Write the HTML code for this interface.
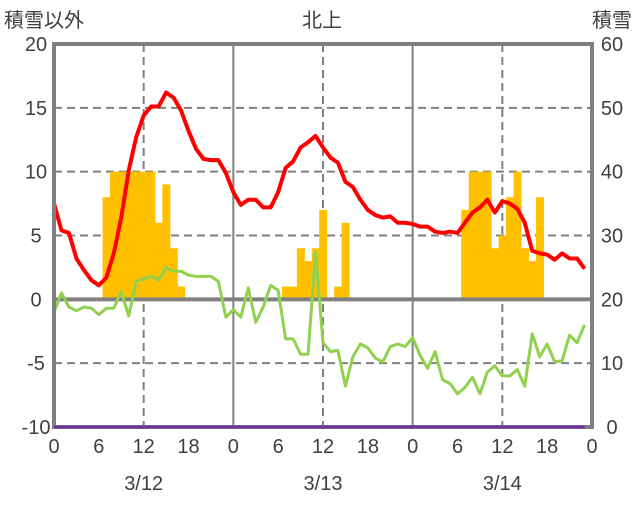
<!DOCTYPE html>
<html><head><meta charset="utf-8"><style>
body{margin:0;background:#fff;}
svg text{font-family:"Liberation Sans","Noto Sans CJK JP",sans-serif;fill:#404040;font-size:20px;}
</style></head><body>
<svg id="chart" width="636" height="501" xmlns="http://www.w3.org/2000/svg"></svg>
<script>
const hours = Array.from({length:72},(_,i)=>i);
const snowHours = [7,8,9,10,11,12,13,14,15,16,17,31,32,33,34,35,36,38,39,55,56,57,58,59,60,61,62,63,64,65];
const snowValues = [8,10,10,10,10,10,10,6,9,4,1,1,1,4,3,4,7,1,6,7,10,10,10,4,5,8,10,4,3,8];
const redValues = [7.5,5.4,5.2,3.2,2.3,1.5,1.1,1.7,3.6,6.4,10.1,12.7,14.4,15.1,15.1,16.2,15.8,14.8,13.2,11.8,11.0,10.9,10.9,9.9,
8.4,7.4,7.8,7.8,7.2,7.2,8.4,10.3,10.8,11.9,12.3,12.8,11.9,11.1,10.7,9.2,8.8,7.8,7.0,6.6,6.4,6.5,6.0,6.0,
5.9,5.7,5.7,5.3,5.2,5.3,5.2,6.0,6.8,7.2,7.8,6.8,7.7,7.5,7.1,6.0,3.8,3.6,3.5,3.1,3.6,3.2,3.2,2.4];
const greenValues = [-1.0,0.5,-0.6,-0.9,-0.6,-0.7,-1.2,-0.7,-0.7,0.6,-1.3,1.4,1.6,1.8,1.5,2.5,2.2,2.2,1.9,1.8,1.8,1.8,1.4,-1.4,
-0.8,-1.4,0.9,-1.8,-0.6,1.1,0.7,-3.1,-3.1,-4.3,-4.3,3.7,-3.4,-4.1,-4.0,-6.8,-4.5,-3.5,-3.8,-4.6,-4.9,-3.7,-3.5,-3.7,
-3.0,-4.4,-5.4,-4.1,-6.3,-6.6,-7.4,-6.9,-6.1,-7.4,-5.7,-5.2,-6.0,-6.0,-5.5,-6.8,-2.7,-4.5,-3.5,-4.9,-4.8,-2.8,-3.4,-2.0];
const purpleValues = Array.from({length:72},()=>-10);
const leftTicks = [20,15,10,5,0,-5,-10];
const rightTicks = [60,50,40,30,20,10,0];
const xTickLabels = ["0","6","12","18","0","6","12","18","0","6","12","18","0"];
const dateLabels = ["3/12","3/13","3/14"];

const X0=54,X1=592,Y0=44,Y1=427;
const x=h=>X0+(X1-X0)*h/72;
const y=v=>Y0+(Y1-Y0)*(20-v)/30;
const svg=document.getElementById('chart');
const NS='http://www.w3.org/2000/svg';
function mk(tag,attrs,parent){const e=document.createElementNS(NS,tag);for(const k in attrs)e.setAttribute(k,attrs[k]);(parent||svg).appendChild(e);return e;}

// grid
[15,10,5,-5].forEach(v=>{
  const g=mk('line',{x1:X0,x2:X1,y1:y(v),y2:y(v),stroke:'#808080','stroke-width':2,'stroke-dasharray':'8,5'});
  
  
});
[12,36,60].forEach(h=>{
  const g=mk('line',{x1:x(h),x2:x(h),y1:Y0,y2:Y1,stroke:'#808080','stroke-width':2,'stroke-dasharray':'8,5'});
  
  
});
[24,48].forEach(h=>{
  const g=mk('line',{x1:x(h),x2:x(h),y1:Y0,y2:Y1,stroke:'#808080','stroke-width':2});
  
  
});
// bars
const bw=(X1-X0)/72;
snowHours.forEach((h,i)=>{
  const b=mk('rect',{x:x(h)-bw/2,y:y(snowValues[i]),width:bw+0.5,height:y(0)-y(snowValues[i]),fill:'#FFC000'});
  
  
});
// zero line
const z=mk('line',{x1:X0,x2:X1,y1:y(0),y2:y(0),stroke:'#808080','stroke-width':4});


function line(vals,color,w,name){
  const p=mk('polyline',{points:vals.map((v,i)=>x(hours[i])+','+y(v)).join(' '),fill:'none',stroke:color,'stroke-width':w,'stroke-linejoin':'round'});
  
  
}
line(greenValues,'#92D050',3,'green-series');
line(redValues,'#FF0000',4,'red-series');
// frame
const f=mk('rect',{x:X0,y:Y0,width:X1-X0,height:Y1-Y0,fill:'none',stroke:'#808080','stroke-width':4});


line(purpleValues.concat([-10]).slice(0,72),'#7030A0',3,'purple-series');
// ticks
leftTicks.forEach(v=>{
  const t=mk('text',{x:36,y:y(v)+7,'text-anchor':'middle'});t.textContent=v;
  
  
});
rightTicks.forEach((v,i)=>{
  const t=mk('text',{x:612,y:y(leftTicks[i])+7,'text-anchor':'middle'});t.textContent=v;
  
  
});
xTickLabels.forEach((s,i)=>{
  const t=mk('text',{x:x(i*6),y:453,'text-anchor':'middle'});t.textContent=s;
  
  
});
dateLabels.forEach((s,i)=>{
  const t=mk('text',{x:x(12+24*i),y:490,'text-anchor':'middle'});t.textContent=s;
  
  
});
[['積雪以外',4,'start','left-axis-title'],['北上',322,'middle','chart-title'],['積雪',632,'end','right-axis-title']].forEach(a=>{
  const t=mk('text',{x:a[1],y:27,'text-anchor':a[2]});t.textContent=a[0];
  
  
});
</script>
</body></html>
